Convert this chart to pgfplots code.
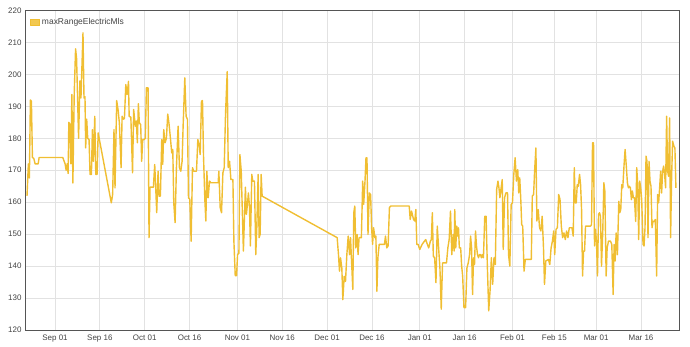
\documentclass[border=0pt]{standalone}
\usepackage{pgfplots}
\pgfplotsset{compat=1.18}
\usepackage{fontspec}
\setmainfont{Liberation Sans}
\definecolor{lineY}{RGB}{240,190,50}
\definecolor{gridG}{RGB}{226,226,226}
\definecolor{axisG}{RGB}{85,85,85}
\definecolor{txt}{RGB}{68,68,68}
\pgfplotstableread{
day val
-9.36 162
-8.91 172
-8.57 167.6
-8.23 192
-7.89 191.6
-7.55 174
-7.10 173.7
-6.65 172
-5.64 172
-5.30 174
2.59 174
3.38 172
3.72 170
4.06 172
4.40 169
4.62 185
4.96 184.3
5.30 172
5.64 193.7
5.98 166
6.43 194
6.88 208
7.22 205
7.89 180
8.34 198
8.68 192.6
9.36 213
9.70 192.6
10.03 193
10.26 177
10.60 186
10.94 180
11.39 179.6
11.72 168.7
12.18 168.7
12.51 182.7
12.85 172.8
13.30 186.9
13.64 168.7
14.09 168.7
14.43 181.7
18.83 159.8
19.28 162.4
19.73 182.7
20.07 164.5
20.63 191.8
21.08 189
21.53 184.8
22.10 170.8
22.44 186.9
22.89 186
23.22 186.2
23.68 196.8
24.13 193.7
24.58 197.8
24.80 186.9
25.37 186.6
25.93 169.2
26.31 189
26.87 183.8
27.21 185.4
27.54 178.6
27.88 190.8
28.21 184.8
28.66 184.3
28.99 172.8
29.33 179.6
29.78 179.6
30.22 180
30.56 195.8
31.12 195.8
31.45 148.9
31.79 164.7
32.91 164.7
33.35 171.8
33.69 164.5
34.02 156.7
34.47 169.7
34.80 161.9
35.25 161.9
35.70 179.6
36.03 171.8
36.37 182.7
36.82 178.6
37.26 180
37.71 187.6
38.16 184.3
38.60 180
39.05 175.4
39.39 176.5
39.72 159.8
40.17 153.6
40.61 170.8
41.17 183.8
41.62 170.8
42.07 169.7
42.51 172.8
42.85 183.8
43.41 198.9
43.85 186.9
44.30 185.9
44.64 161.4
45.08 160.9
45.53 147.8
45.98 170.8
46.42 169.7
47.32 169.7
47.77 179.6
48.21 178
48.55 174.9
48.99 191.6
49.33 191.8
49.66 174.9
50.11 160.9
50.45 154.1
50.78 169.7
51.23 161.4
51.68 166.6
52.12 166.1
54.58 166.1
54.80 169.7
55.25 158.3
55.70 156.7
56.15 169.2
56.59 170.8
57.04 187.9
57.60 200.9
57.93 170.8
58.38 172.8
58.83 167.1
59.50 167.1
59.83 147.8
60.28 137
60.73 137
61.06 143.6
61.51 144
61.84 174.9
62.29 169.7
63.01 144.7
63.68 164.7
64.02 156.2
64.35 159.3
64.69 162.9
65.03 158.8
65.36 146.3
65.81 168.7
66.15 166.6
66.71 166.6
67.15 143.6
67.49 152
67.94 168.7
68.27 148.9
68.61 149.9
68.95 168.7
69.28 161.9
94.37 148.9
94.81 143.6
95.15 138.4
95.49 142.6
95.93 139.4
96.27 129.5
96.72 136.8
97.16 135.2
97.61 143.6
98.06 149.4
98.51 143.6
98.84 148.9
99.60 132.7
99.93 156.7
100.26 158.8
100.59 145.7
101.03 149.9
101.36 143.6
101.70 148.9
102.47 148.9
102.91 166.6
103.24 159.3
103.68 166.6
104.01 173.9
104.34 173.9
104.68 149.9
105.12 162.9
105.56 162.4
105.89 152
106.22 146.8
106.55 152
106.99 148.9
107.32 149.4
107.66 132.1
107.99 142.6
108.43 146.8
110.19 146.8
110.53 149.4
110.97 145.7
111.41 146.3
111.85 158.3
112.29 158.8
118.47 158.8
118.80 154.6
119.24 157.2
119.91 154.6
120.35 154.1
120.68 157.7
121.01 146.8
121.45 146.8
122.00 145.2
122.78 146.8
123.55 147.8
123.99 148.3
124.54 146.8
124.98 145.7
125.54 147.8
125.87 148.3
126.20 156.7
126.53 143.1
126.97 142.6
127.41 134.8
127.85 152.5
128.30 145.7
128.74 139.4
129.18 126.5
129.62 141
130.94 141
131.39 145.7
131.83 148.3
132.27 157.2
132.71 143.6
133.15 149.9
133.48 144.7
133.70 157.7
134.03 145.7
134.37 152.5
134.70 149.4
134.95 152
135.23 145.7
135.68 145.7
136.01 140
136.34 136.9
136.78 127
137.33 127
137.77 139.4
138.21 141
138.66 143.6
138.99 149.4
139.32 145.7
139.65 131.1
139.98 142.6
140.31 140.5
140.64 151
140.97 146.3
141.30 143.6
141.64 142.6
141.97 143.6
142.30 143.6
142.63 142.6
142.96 143.6
143.29 142.6
143.73 155.6
144.17 155.6
144.62 139.4
145.06 126
145.50 132.2
145.94 142.6
146.38 134.3
146.82 142.6
147.26 140.5
147.71 164
148.15 166.6
148.48 164.5
148.81 161.4
149.14 164
149.58 167.1
149.91 145.2
150.36 161.4
150.80 162.9
151.35 162.9
151.68 143.6
152.12 140
152.56 159.3
153.00 159.8
153.45 168.7
153.89 173.9
154.33 166.6
154.77 170.2
155.10 162.9
155.43 167.6
155.76 161.4
156.09 153
156.43 152.5
156.87 138.4
157.31 142.1
159.30 142.1
159.63 161.9
160.07 162.4
160.40 169.7
160.84 177
161.17 154.1
161.61 157.7
162.06 152
162.50 151
162.94 155.6
163.38 145.7
163.71 134.3
164.15 141.6
165.04 142.1
165.48 140.5
165.92 145.7
166.36 147.8
166.80 151
167.13 143.6
167.57 151.5
168.02 152
168.46 162.4
168.90 160.9
169.34 152.5
169.78 148.9
170.22 150.4
170.67 148.3
171.11 151
171.56 148.9
172.00 152
172.89 152
173.33 149.4
173.67 170.8
174.00 159.8
174.33 159.8
174.67 165.5
175.00 165
175.44 168.7
175.78 165.5
176.11 157.7
176.44 136.9
176.78 144.7
177.11 144.7
177.44 152.5
179.11 152.5
179.44 153
179.78 178.6
180.11 178.6
180.44 146.3
180.78 151.5
181.11 147.3
181.44 136.9
181.78 156.2
182.11 156.7
182.44 155.6
182.78 140
183.22 151.5
183.56 166.1
183.89 163.5
184.33 136.9
184.67 145.7
185.11 147.8
185.78 147.8
186.22 146.8
186.67 131.1
187.00 146.8
187.33 141.6
187.67 150.4
188.11 143.6
188.56 160.3
188.89 156.7
189.22 157.7
189.56 165.5
189.89 164.5
190.33 171.8
190.67 176.5
191.11 170.8
191.44 166.1
191.78 164.5
192.11 165
192.44 164.5
192.78 160.8
193.11 163.5
193.44 161.4
193.78 161.4
194.22 154
194.56 170.8
194.89 165.5
195.22 148.3
195.56 166.6
195.89 164.5
196.22 160.8
196.67 146.8
197.00 146.3
197.33 152
197.67 174.4
198.00 172.8
198.33 148.9
198.67 172.8
199.00 166.6
199.33 165
199.67 152
200.00 154
200.44 154
200.78 154.6
201.22 136.9
201.56 162.4
201.89 159.8
202.22 164.5
202.56 169.7
202.89 162.9
203.22 169.7
203.56 171.3
203.89 168.7
204.22 164.5
204.56 186.9
204.89 169.7
205.22 168.1
205.56 186.4
205.89 148.9
206.22 167.6
206.56 179.1
207.00 177.5
207.33 177
207.67 164.5
}\rangedata
\begin{document}
\begin{tikzpicture}
\begin{axis}[
  scale only axis, width=653bp, height=319.5bp,
  xmin=-9.7, xmax=208.7, ymin=120, ymax=220,
  xtick={0,15,30,45,61,76,91,106,122,137,153,167,181,196},
  xticklabels={Sep 01,Sep 16,Oct 01,Oct 16,Nov 01,Nov 16,Dec 01,Dec 16,Jan 01,Jan 16,Feb 01,Feb 15,Mar 01,Mar 16},
  ytick={120,130,...,220},
  grid=major, major grid style={gridG, line width=0.8bp},
  major tick length=0pt,
  axis line style={axisG, line width=1bp},
  tick label style={font=\fontsize{8}{9}\selectfont, text=txt},
  /pgf/number format/assume math mode=true,
  xticklabel style={yshift=-1bp},
  yticklabel style={xshift=-1bp},
  legend style={at={(rel axis cs:0,1)}, anchor=north west, draw=none, fill=none,
    xshift=3bp, yshift=-5bp, font=\fontsize{8.5}{10}\selectfont, text=txt, inner sep=1pt},
  legend cell align=left,
  legend image code/.code={\draw[fill=lineY!85, draw=lineY, line width=0.8bp] (0bp,-3bp) rectangle (9bp,3.5bp);},
]
\addplot[lineY, line width=1.4bp, line join=round] table[x=day, y=val] {\rangedata};
\addlegendentry{maxRangeElectricMls}
\coordinate (SW) at (rel axis cs:0,0);
\coordinate (NE) at (rel axis cs:1,1);
\end{axis}
\pgfresetboundingbox
\path ([shift={(-26bp,-17bp)}]SW) rectangle ([shift={(11bp,10.5bp)}]NE);
\end{tikzpicture}
\end{document}
